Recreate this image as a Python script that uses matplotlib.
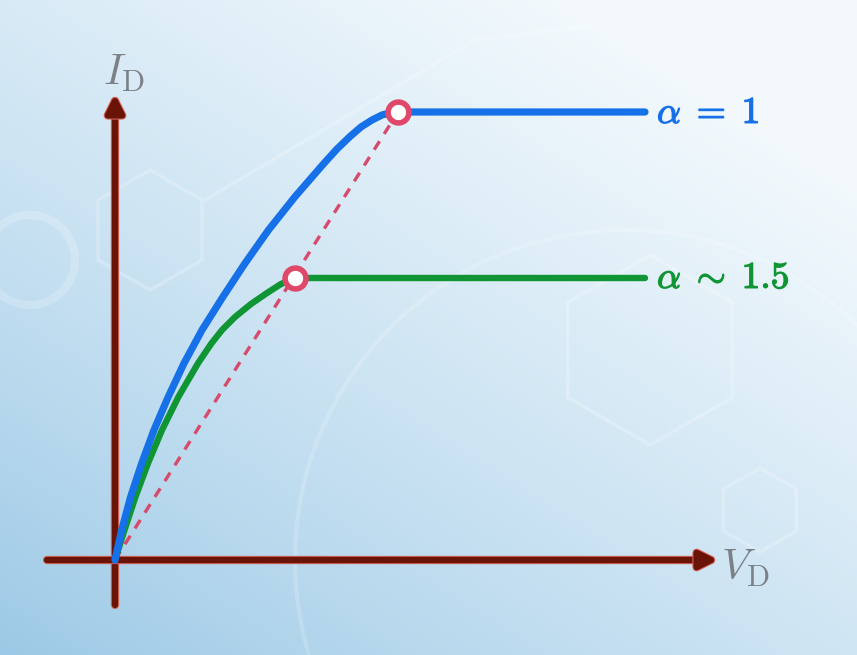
import numpy as np
import matplotlib.pyplot as plt
import matplotlib.patheffects as pe
from matplotlib.patches import RegularPolygon, Circle

plt.rcParams['mathtext.fontset'] = 'cm'

# curves (V_D, I_D in arbitrary units)
blue_v = [0, 0.067, 0.157, 0.267, 0.39, 0.533, 0.69, 0.87, 1.08, 1.30,
          1.535, 1.80, 2.09, 2.22, 2.35, 2.46, 2.57, 2.67, 2.76, 2.83, 5.30]
blue_i = [0, 0.30, 0.633, 0.967, 1.30, 1.633, 1.967, 2.30, 2.633, 2.967,
          3.30, 3.633, 3.967, 4.11, 4.235, 4.33, 4.40, 4.45, 4.474, 4.48, 4.48]
green_v = [0, 0.095, 0.205, 0.33, 0.47, 0.635, 0.83, 0.96, 1.07, 1.20,
           1.36, 1.52, 1.66, 1.80, 5.30]
green_i = [0, 0.30, 0.633, 0.967, 1.30, 1.633, 1.967, 2.16, 2.30, 2.43,
           2.56, 2.67, 2.76, 2.82, 2.82]
sat_v = [2.83, 1.80]
sat_i = [4.48, 2.82]
labels = [r'$\alpha\;=\;1$', r'$\alpha\;\sim\;1.5$']

fig = plt.figure(figsize=(8.57, 6.55), dpi=100)
ax = fig.add_axes([0, 0, 1, 1])
x0, x1, y0, y1 = -1.15, 7.42, -0.95, 5.60
ax.set_xlim(x0, x1)
ax.set_ylim(y0, y1)
ax.axis('off')

# background gradient, darker towards bottom left
gx, gy = np.meshgrid(np.linspace(0, 1, 300), np.linspace(0, 1, 230))
t = np.clip(0.5 * gx + 0.6 * gy + 0.08, 0, 1) ** 0.8
c_lo = np.array([0.56, 0.76, 0.89])
c_hi = np.array([0.95, 0.975, 0.99])
img = c_lo + (c_hi - c_lo) * t[..., None]
ax.imshow(img, extent=(x0, x1, y0, y1), origin='lower', aspect='auto', zorder=0)

# faint decorations
deco = dict(fill=False, ec='white', alpha=0.22, lw=2.5, zorder=1)
ax.add_patch(RegularPolygon((0.35, 3.3), 6, radius=0.6, **deco))
ax.add_patch(RegularPolygon((5.35, 2.1), 6, radius=0.95, **deco))
ax.add_patch(RegularPolygon((6.45, 0.5), 6, radius=0.42, **deco))
ax.add_patch(Circle((5.1, 0.0), 3.3, fill=False, ec='white', alpha=0.18, lw=3, zorder=1))
ax.add_patch(Circle((-0.85, 3.0), 0.45, fill=False, ec='white', alpha=0.2, lw=6, zorder=1))
ax.plot([0.9, 3.6, 6.9], [3.6, 5.2, 5.6], color='white', alpha=0.22, lw=2.5, zorder=1)

# axes arrows
axis_col = '#6a1407'
halo = [pe.withStroke(linewidth=6, foreground='#d4665a')]
for start, end in [((0, -0.45), (0, 4.66)), ((-0.68, 0), (6.03, 0))]:
    ax.annotate('', xy=end, xytext=start,
                arrowprops=dict(arrowstyle='-|>', color=axis_col, lw=4.5,
                                mutation_scale=26, shrinkA=0, shrinkB=0,
                                path_effects=halo),
                zorder=2)

ax.text(-0.12, 4.75, r'$I_{\mathrm{D}}$', fontsize=31, color='#7c8188',
        ha='left', va='baseline', zorder=5)
ax.text(6.06, -0.20, r'$V_{\mathrm{D}}$', fontsize=31, color='#7c8188',
        ha='left', va='baseline', zorder=5)

# dashed saturation line
ax.plot([0, sat_v[0]], [0, sat_i[0]], color='#d64a6b', lw=2.4,
        dashes=(3.0, 2.6), zorder=3)

ax.plot(green_v, green_i, color='#109535', lw=4.6, solid_capstyle='round',
        solid_joinstyle='round', zorder=4)
ax.plot(blue_v, blue_i, color='#1670e8', lw=5.2, solid_capstyle='round',
        solid_joinstyle='round', zorder=4)

ax.plot(sat_v, sat_i, 'o', ms=15, mfc='white', mec='#e0486a', mew=4, zorder=6)

for lab, y, col in zip(labels, [4.37, 2.72], ['#1670e8', '#109535']):
    ax.text(5.42, y, lab, fontsize=27, color=col, ha='left', va='baseline',
            path_effects=[pe.withStroke(linewidth=0.9, foreground=col)], zorder=5)

fig.savefig('out.png', dpi=100)
